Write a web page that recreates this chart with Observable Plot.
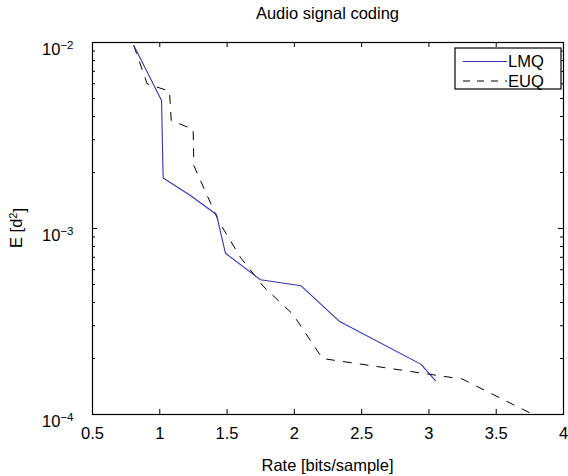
<!DOCTYPE html>
<html>
<head>
<meta charset="utf-8">
<script src="https://cdn.jsdelivr.net/npm/d3@7"></script>
<script src="https://cdn.jsdelivr.net/npm/@observablehq/plot@0.6"></script>
<style>
  html, body { margin: 0; padding: 0; background: #fff; }
  #chart svg { display: block; }
</style>
</head>
<body>
<div id="chart"></div>
<script>
// ---- data ----
const lmqRate = [0.807, 1.013, 1.025, 1.225, 1.421, 1.488, 1.748, 2.05, 2.337, 2.942, 3.048];
const lmqErr  = [0.00964, 0.00488, 0.00187, 0.00151, 0.00119, 0.000736, 0.00053, 0.000492, 0.000316, 0.000186, 0.000152];

const euqRate = [0.807, 0.906, 1.072, 1.085, 1.248, 1.253, 1.436, 1.60, 1.77, 1.99, 2.209, 3.249, 3.774];
const euqErr  = [0.0096, 0.0060, 0.00547, 0.00381, 0.00341, 0.00218, 0.00110, 0.000698, 0.000488, 0.000345, 0.000200, 0.000155, 0.0001];

const xTicks = [0.5, 1, 1.5, 2, 2.5, 3, 3.5, 4];
const yMajor = [1e-4, 1e-3, 1e-2];
const yExponents = ["-4", "-3", "-2"];
const yMinor = [2e-4,3e-4,4e-4,5e-4,6e-4,7e-4,8e-4,9e-4,2e-3,3e-3,4e-3,5e-3,6e-3,7e-3,8e-3,9e-3];

const seriesNames = ["LMQ", "EUQ"];
const titleText = "Audio signal coding";
const xLabel = "Rate [bits/sample]";

const lmq = lmqRate.map((r, i) => ({rate: r, err: lmqErr[i]}));
const euq = euqRate.map((r, i) => ({rate: r, err: euqErr[i]}));

const W = 568, H = 476;
const mT = 42, mB = 62, mL = 92, mR = 5;
const innerH = H - mT - mB;
const innerW = W - mL - mR;
const FONT = "'Liberation Sans', Arial, Helvetica, sans-serif";
const FS = 16.5;
const blue = "#3434b8";

const plot = Plot.plot({
  width: W, height: H,
  marginTop: mT, marginBottom: mB, marginLeft: mL, marginRight: mR,
  style: {fontFamily: FONT, fontSize: FS + "px", color: "#000", background: "#fff"},
  x: {domain: [0.5, 4]},
  y: {type: "log", domain: [1e-4, 1e-2]},
  marks: [
    Plot.tickX(xTicks, {x: d => d, insetTop: innerH - 5, stroke: "#000"}),
    Plot.tickX(xTicks, {x: d => d, insetBottom: innerH - 5, stroke: "#000"}),
    Plot.tickY(yMajor, {y: d => d, insetRight: innerW - 5, stroke: "#000"}),
    Plot.tickY(yMajor, {y: d => d, insetLeft: innerW - 5, stroke: "#000"}),
    Plot.tickY(yMinor, {y: d => d, insetRight: innerW - 3, stroke: "#000"}),
    Plot.tickY(yMinor, {y: d => d, insetLeft: innerW - 3, stroke: "#000"}),
    Plot.axisX(xTicks, {tickSize: 0, tickPadding: 13, label: null, fontSize: FS, tickFormat: d => String(d)}),
    Plot.axisY(yMajor, {tickSize: 0, tickPadding: 19, label: null, fontSize: FS, tickFormat: d => "10"}),
    Plot.line(euq, {x: "rate", y: "err", stroke: "#000", strokeWidth: 1, strokeDasharray: "8,9"}),
    Plot.line(lmq, {x: "rate", y: "err", stroke: blue, strokeWidth: 1.1}),
    Plot.frame({stroke: "#000", strokeWidth: 1.2})
  ]
});

const svg = d3.select(plot);
svg.selectAll("g[aria-label='y-axis tick label'] text").each(function(d, i) {
  const t = d3.select(this);
  t.text("10");
  t.append("tspan").attr("dy", "-0.55em").attr("font-size", "11.5px").text("\u2212" + yExponents[i].slice(1));
  t.attr("dy", "0.45em");
});

svg.append("text")
  .attr("x", mL + innerW / 2).attr("y", 19)
  .attr("text-anchor", "middle").attr("font-size", FS).attr("font-family", FONT)
  .text(titleText);

svg.append("text")
  .attr("x", mL + innerW / 2).attr("y", 471)
  .attr("text-anchor", "middle").attr("font-size", FS).attr("font-family", FONT)
  .text(xLabel);

const yl = svg.append("text")
  .attr("transform", `translate(22,${mT + innerH / 2}) rotate(-90)`)
  .attr("text-anchor", "middle").attr("font-size", FS).attr("font-family", FONT)
  .text("E [d");
yl.append("tspan").attr("dy", "-0.5em").attr("font-size", "11px").text("2");
yl.append("tspan").attr("dy", "0.5em").text("]");

const lg = svg.append("g").attr("font-family", FONT).attr("font-size", 16.5).attr("text-anchor", "start");
const lx = 455, ly = 48, lw = 106, lh = 41;
lg.append("rect").attr("x", lx).attr("y", ly).attr("width", lw).attr("height", lh)
  .attr("fill", "#fff").attr("stroke", "#000").attr("stroke-width", 1.2);
const styles = [{stroke: blue, dash: null}, {stroke: "#000", dash: "7,7"}];
seriesNames.forEach((name, i) => {
  const cy = ly + 13.5 + i * 19.5;
  lg.append("line").attr("x1", lx + 8).attr("x2", lx + 52).attr("y1", cy).attr("y2", cy)
    .attr("stroke", styles[i].stroke).attr("stroke-width", 1)
    .attr("stroke-dasharray", styles[i].dash);
  lg.append("text").attr("x", lx + 53).attr("y", cy).attr("dy", "0.36em").text(name);
});

document.getElementById("chart").appendChild(plot);
</script>
</body>
</html>
